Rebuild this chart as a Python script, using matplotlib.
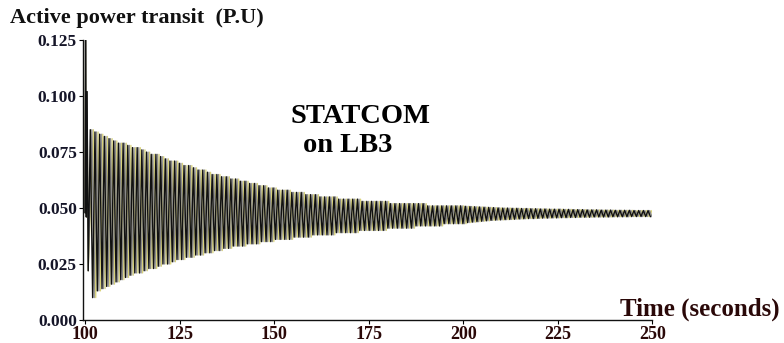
import numpy as np
import matplotlib
matplotlib.use("Agg")
import matplotlib.pyplot as plt

# --- data ---
# start-up transient (time s, power p.u.)
intro_t = [100.0, 100.15, 100.35, 100.55, 100.85]
intro_p = [0.048, 0.125, 0.046, 0.102, 0.022]

# one upper and one lower swing per cycle, 120 cycles between these times
cycle_start = 101.4
cycle_end = 249.5

peak_hi = [
    0.085, 0.084, 0.083, 0.082, 0.081, 0.080, 0.079, 0.079, 0.078, 0.077,
    0.077, 0.076, 0.075, 0.074, 0.074, 0.073, 0.072, 0.071, 0.071, 0.070,
    0.069, 0.069, 0.068, 0.067, 0.067, 0.066, 0.065, 0.065, 0.064, 0.064,
    0.063, 0.063, 0.062, 0.062, 0.061, 0.061, 0.060, 0.060, 0.059, 0.059,
    0.058, 0.058, 0.058, 0.057, 0.057, 0.057, 0.056, 0.056, 0.056, 0.055,
    0.055, 0.055, 0.055, 0.054, 0.054, 0.054, 0.054, 0.054, 0.053, 0.053,
    0.053, 0.053, 0.053, 0.053, 0.052, 0.052, 0.052, 0.052, 0.052, 0.052,
    0.052, 0.052, 0.051, 0.051, 0.051, 0.051, 0.051, 0.051, 0.051, 0.051,
    0.0508, 0.0507, 0.0506, 0.0505, 0.0504, 0.0503, 0.0502, 0.0501, 0.0500, 0.0500,
    0.0499, 0.0499, 0.0498, 0.0498, 0.0497, 0.0497, 0.0496, 0.0496, 0.0495, 0.0495,
    0.0495, 0.0494, 0.0494, 0.0493, 0.0493, 0.0493, 0.0492, 0.0492, 0.0492, 0.0491,
    0.0491, 0.0491, 0.0490, 0.0490, 0.0490, 0.0490, 0.0489, 0.0489, 0.0489, 0.0489,
]
peak_lo = [
    0.010, 0.013, 0.014, 0.015, 0.016, 0.017, 0.018, 0.019, 0.020, 0.021,
    0.021, 0.022, 0.023, 0.023, 0.024, 0.025, 0.025, 0.026, 0.027, 0.027,
    0.028, 0.028, 0.029, 0.029, 0.030, 0.030, 0.031, 0.031, 0.032, 0.032,
    0.033, 0.033, 0.033, 0.034, 0.034, 0.034, 0.035, 0.035, 0.035, 0.036,
    0.036, 0.036, 0.036, 0.037, 0.037, 0.037, 0.037, 0.038, 0.038, 0.038,
    0.038, 0.038, 0.039, 0.039, 0.039, 0.039, 0.039, 0.040, 0.040, 0.040,
    0.040, 0.040, 0.040, 0.041, 0.041, 0.041, 0.041, 0.041, 0.041, 0.042,
    0.042, 0.042, 0.042, 0.042, 0.042, 0.043, 0.043, 0.043, 0.043, 0.043,
    0.0435, 0.0437, 0.0439, 0.0441, 0.0443, 0.0445, 0.0446, 0.0447, 0.0448, 0.0449,
    0.0450, 0.0451, 0.0452, 0.0453, 0.0453, 0.0454, 0.0455, 0.0455, 0.0456, 0.0456,
    0.0457, 0.0457, 0.0458, 0.0458, 0.0459, 0.0459, 0.0459, 0.0460, 0.0460, 0.0460,
    0.0460, 0.0461, 0.0461, 0.0461, 0.0461, 0.0462, 0.0462, 0.0462, 0.0462, 0.0462,
]

x_ticks = [100, 125, 150, 175, 200, 225, 250]
y_ticks = [0.000, 0.025, 0.050, 0.075, 0.100, 0.125]


def build_trace(shift):
    # zigzag through the swings: high, low, high, low ...
    n = len(peak_hi)
    period = (cycle_end - cycle_start) / (n - 0.5)
    t_hi = cycle_start + np.arange(n) * period + shift * period
    t_lo = t_hi + period / 2
    t = np.empty(2 * n)
    p = np.empty(2 * n)
    t[0::2], t[1::2] = t_hi, t_lo
    p[0::2], p[1::2] = peak_hi, peak_lo
    return np.concatenate([intro_t, t]), np.concatenate([intro_p, p])


plt.rcParams['font.family'] = ['Liberation Serif', 'DejaVu Serif']

fig = plt.figure(figsize=(7.84, 3.43), dpi=100)
ax = fig.add_axes([0.106, 0.067, 0.726, 0.816])

# scanned look: yellow and grey copies under the black trace
t, p = build_trace(0.66)
ax.plot(t, p, color='#d8d27a', lw=0.9)
t, p = build_trace(0.33)
ax.plot(t, p, color='#8a8a8a', lw=0.9)
t, p = build_trace(0.0)
ax.plot(t, p, color='#111111', lw=1.0)

ax.set_xlim(99.5, 250)
ax.set_ylim(0, 0.125)
ax.set_xticks(x_ticks)
ax.set_yticks(y_ticks)
ax.set_xticklabels([str(v) for v in x_ticks], fontsize=13, fontweight='bold', color='#2a0808')
ax.set_yticklabels([f"{v:.3f}" for v in y_ticks], fontsize=12.5, fontweight='bold', color='#151528')
ax.tick_params(axis='both', direction='out', length=3, width=0.8, pad=1.5)

for side in ['top', 'right']:
    ax.spines[side].set_visible(False)
for side in ['left', 'bottom']:
    ax.spines[side].set_linewidth(1.0)
    ax.spines[side].set_color('#111111')

fig.text(0.013, 0.947, 'Active power transit  (P.U)', fontsize=16, fontweight='bold',
         va='center', ha='left', color='#111111')
fig.text(0.995, 0.097, 'Time (seconds)', fontsize=18, fontweight='bold',
         va='center', ha='right', color='#2a0808')
fig.text(0.37, 0.659, 'STATCOM', fontsize=20.5, fontweight='bold', va='center', ha='left')
fig.text(0.386, 0.577, 'on LB3', fontsize=20.5, fontweight='bold', va='center', ha='left')

fig.savefig('out.png', dpi=100)
